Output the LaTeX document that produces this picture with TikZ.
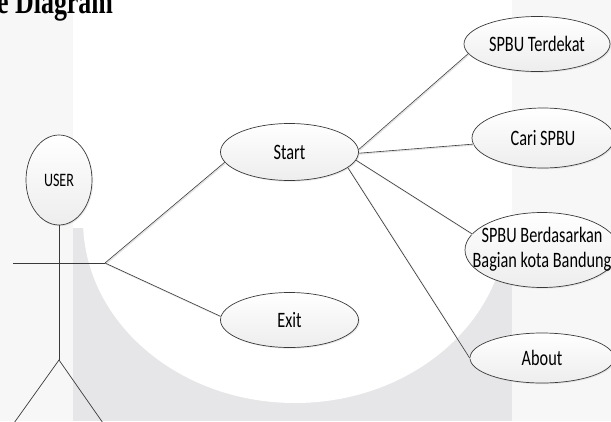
\documentclass[tikz,border=0pt]{standalone}
\usepackage{fontspec}
\newfontfamily\ucfont{Carlito}
\newfontfamily\headfont{Liberation Serif}
\usetikzlibrary{shapes.geometric, shadows}

\definecolor{linegray}{HTML}{3A3A3A}
\definecolor{bandgray}{HTML}{F7F7F7}
\definecolor{wmgray}{HTML}{E6E6E8}

% text in the picture is set narrow
\newcommand{\narrow}[1]{\scalebox{0.74}[1]{#1}}

\begin{document}
\begin{tikzpicture}[x=1pt, y=-1pt,
	usecase/.style={ellipse, draw=linegray, line width=0.7pt, top color=white, bottom color=gray!14,
		inner sep=0pt, font=\ucfont\fontsize{22}{25}\selectfont,
		drop shadow={shadow xshift=1.2pt, shadow yshift=-1.2pt, fill=gray!50, opacity=0.35}},
	conn/.style={draw=linegray, line width=0.6pt,
		preaction={draw=gray!22, line width=1.2pt, transform canvas={xshift=0.9pt, yshift=-0.9pt}}},
	stick/.style={draw=linegray, line width=0.7pt}]
	\useasboundingbox (0,0) rectangle (611,421);

	% background
	\fill[bandgray] (0,0) rectangle (73,421);
	\fill[bandgray] (512,0) rectangle (611,421);
	\fill[wmgray] (73,228) rectangle (512,421);
	\fill[white] (295,220) ellipse [x radius=212, y radius=183];

	\node[anchor=base west, inner sep=0pt, font=\headfont\bfseries\fontsize{35}{38}\selectfont] (title) at (-3,13) {\narrow{e Diagram}};

	% actor
	\node[usecase, minimum width=66pt, minimum height=90pt, font=\ucfont\fontsize{19}{22}\selectfont] (user) at (59,180) {\narrow{USER}};
	\coordinate (hip) at (59,360);
	\coordinate (lhand) at (13,263);
	\coordinate (rhand) at (105,263);
	\coordinate (lfoot) at (14,423);
	\coordinate (rfoot) at (103,423);
	\draw[stick] (user.south) -- (hip);
	\draw[stick] (lhand) -- (rhand);
	\draw[stick] (lfoot) -- (hip) -- (rfoot);

	% use cases
	\node[usecase, minimum width=138pt, minimum height=57pt] (start) at (289.5,152) {\narrow{Start}};
	\node[usecase, minimum width=138pt, minimum height=55pt] (exit) at (289.5,320) {\narrow{Exit}};
	\node[usecase, minimum width=146pt, minimum height=55pt] (terdekat) at (537,44) {\narrow{SPBU Terdekat}};
	\node[usecase, minimum width=142pt, minimum height=60pt] (cari) at (543,138) {\narrow{Cari SPBU}};
	\node[usecase, minimum width=154pt, minimum height=75pt, inner xsep=-16pt] (bagian) at (542,250)
		{\narrow{\begin{tabular}{@{}c@{}}SPBU Berdasarkan\\Bagian kota Bandung\end{tabular}}};
	\node[usecase, minimum width=144pt, minimum height=50pt] (about) at (542,358) {\narrow{About}};

	\draw[conn] (rhand) -- (start.189);
	\draw[conn] (rhand) -- (exit.177);
	\draw[conn] (start.2) -- (terdekat.188);
	\draw[conn] (start.-1) -- (cari.185);
	\draw[conn] (start.-7) -- (bagian.167);
	\draw[conn] (start.-15) -- (about.west);
\end{tikzpicture}
\end{document}
